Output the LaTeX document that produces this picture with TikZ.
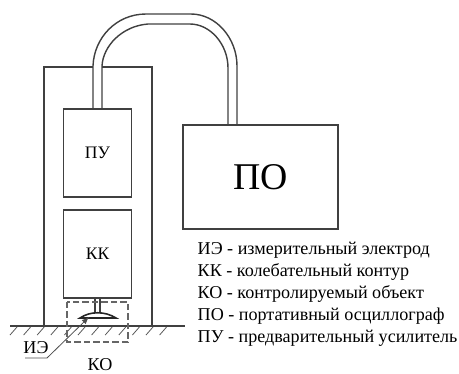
\documentclass[tikz,border=0pt]{standalone}
\usepackage{fontspec}
\setmainfont{Liberation Serif}
\begin{document}
\begin{tikzpicture}[x=0.02cm,y=-0.02cm,
    line width=0.8pt,
    unit/.style={draw=black!75,minimum width=1.36cm,minimum height=1.76cm,inner sep=0pt,font=\fontsize{10}{12}\selectfont},
    mark label/.style={inner sep=0pt,font=\fontsize{10.3}{12}\selectfont},
    legend/.style={anchor=base west,inner sep=0pt,font=\fontsize{10.3}{12}\selectfont}]
  \useasboundingbox (0,0) rectangle (459,373);
  % body and boxes
  \draw[black!75] (93,67) -- (44,67) -- (44,326);
  \draw[black!75] (102,67) -- (152,67) -- (152,326);
  \node[unit] (pu) at (97.5,153) {\raisebox{-1pt}{ПУ}};
  \node[unit] (kk) at (97.5,254) {КК};
  \node[unit,minimum width=3.1cm,minimum height=2.08cm,font=\fontsize{21.5}{26}\selectfont] (po) at (260.5,177) {\raisebox{-2.5pt}{ПО}};
  % tube
  \coordinate (tubea) at (93,108);
  \coordinate (tubeb) at (102,108);
  \coordinate (tubec) at (228,125);
  \coordinate (tubed) at (237,125);
  \draw[black!75] (tubea) -- (93,66) .. controls (94,38) and (116,14) .. (146,14) -- (191,14)
    .. controls (216,14) and (237,38) .. (237,66) -- (tubed);
  \draw[black!75] (tubeb) -- (102,66) .. controls (103,46) and (122,26) .. (148,24) -- (190,24)
    .. controls (210,24) and (228,44) .. (228,68) -- (tubec);
  % ground
  \draw[black!75] (10,326) -- (185,326);
  \foreach \x in {17,30.6,...,180}
    \draw[black!65,line width=0.45pt] (\x,327) -- (\x-7,335);
  % electrode
  \draw[black!75] (95,297) -- (95,313);
  \draw[black!75] (100,297) -- (100,313);
  \draw[black!85,fill=white,line width=0.9pt] (80,318) .. controls (90,311) and (105,311) .. (116,318) -- cycle;
  \draw[black!60,dash pattern=on 3.6pt off 1.8pt] (67,302) rectangle (128,342);
  % labels
  \node[mark label] (ie) at (36,347.5) {ИЭ};
  \node[mark label] (ko) at (100,365) {КО};
  \coordinate (tip) at (89,317);
  \coordinate (lead) at (47,358);
  \coordinate (leadend) at (25,358);
  \draw[black!70,line width=0.45pt,-latex] (leadend) -- (lead) -- (tip);
  % legend
  \node[legend] (la) at (197,254.5) {ИЭ - измерительный электрод};
  \node[legend] (lb) at (197,276) {КК - колебательный контур};
  \node[legend] (lc) at (197,298) {КО - контролируемый объект};
  \node[legend] (ld) at (197,320) {ПО - портативный осциллограф};
  \node[legend] (le) at (197,342) {ПУ - предварительный усилитель};
\end{tikzpicture}
\end{document}
